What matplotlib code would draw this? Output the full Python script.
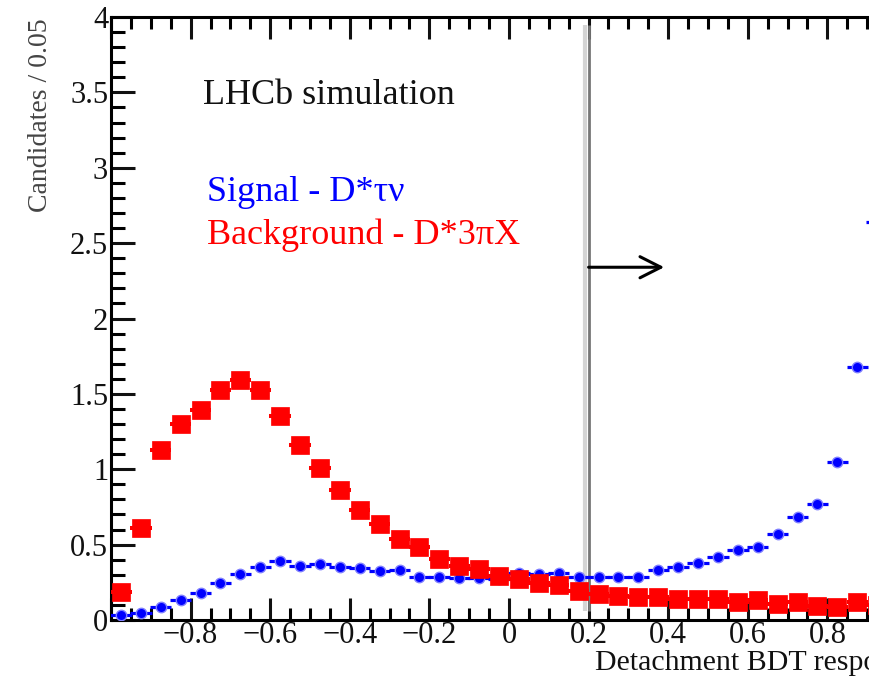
import numpy as np
import matplotlib
matplotlib.use("Agg")
import matplotlib.pyplot as plt
from matplotlib.ticker import MultipleLocator, FuncFormatter

# ---- data (bin centres of width 0.05) ----
bin_centers = [-0.975 + 0.05 * k for k in range(39)]
signal = [0.03, 0.044, 0.088, 0.132, 0.177, 0.243, 0.305, 0.353, 0.393, 0.360,
          0.371, 0.349, 0.342, 0.327, 0.331, 0.287, 0.287, 0.280, 0.276, 0.275,
          0.313, 0.305, 0.313, 0.283, 0.287, 0.283, 0.287, 0.331, 0.353, 0.380,
          0.419, 0.464, 0.486, 0.570, 0.680, 0.768, 1.049, 1.680, 2.640]
background = [0.185, 0.611, 1.126, 1.298, 1.395, 1.523, 1.589, 1.523, 1.351, 1.163,
              1.011, 0.861, 0.728, 0.640, 0.534, 0.486, 0.402, 0.358, 0.336, 0.291,
              0.269, 0.243, 0.232, 0.194, 0.172, 0.161, 0.150, 0.150, 0.139, 0.139,
              0.139, 0.117, 0.132, 0.106, 0.117, 0.095, 0.088, 0.117, 0.100]
bin_half = 0.027
cut_value = 0.2
arrow_y = 2.34
arrow_end = 0.39

SERIF = ["Liberation Serif", "DejaVu Serif"]
plt.rcParams["font.family"] = SERIF
plt.rcParams["axes.unicode_minus"] = True

W, H = 869, 677
fig = plt.figure(figsize=(W / 100, H / 100), dpi=100)
# axes extends past the right edge of the figure (reference is cropped)
ax = fig.add_axes([111 / W, (H - 620) / H, 796 / W, 603 / H])
ax.set_xlim(-1, 1)
ax.set_ylim(0, 4)

x = np.array(bin_centers)
ax.errorbar(x, signal, xerr=bin_half, fmt="o", color="#0000ff", ms=7.5,
            mfc="#0000ff", mec="#7f7fff", mew=1.0, elinewidth=2.3, capsize=0,
            zorder=3)
ax.errorbar(x, background, xerr=bin_half, fmt="s", color="#ff0000", ms=12.5,
            mfc="#ff0000", mec="#ff0000", mew=0.5, elinewidth=2.9, capsize=0,
            zorder=4)

# cut line (light + dark grey)
ax.plot([cut_value - 0.009, cut_value - 0.009], [0.06, 3.95], color="#d4d4d4",
        lw=3.0, zorder=2, solid_capstyle="butt")
ax.plot([cut_value, cut_value], [0.06, 3.95], color="#777777", lw=2.0,
        zorder=2, solid_capstyle="butt")
ax.annotate("", xy=(arrow_end, arrow_y), xytext=(cut_value, arrow_y),
            arrowprops=dict(arrowstyle="->,head_length=0.75,head_width=0.38",
                            lw=2.2, color="black", mutation_scale=20,
                            shrinkA=0, shrinkB=0), zorder=5)

# texts
ax.text(-0.769, 3.424, "LHCb simulation", fontsize=26, color="#111111",
        ha="left", va="baseline")
ax.text(-0.759, 2.781, "Signal - D*τν", fontsize=26, color="#0000ff",
        ha="left", va="baseline")
ax.text(-0.759, 2.497, "Background - D*3πX", fontsize=26, color="#ff0000",
        ha="left", va="baseline")
ax.text(0.216, -0.331, "Detachment BDT response", fontsize=21.5,
        color="#111111", ha="left", va="baseline", clip_on=False)
fig.text(41 / W, 1 - 18 / H, "Candidates / 0.05", rotation=90, fontsize=20,
         color="#444444", ha="center", va="top")

# axes style (ROOT-like)
for s in ax.spines.values():
    s.set_linewidth(2.2)
ax.xaxis.set_major_locator(MultipleLocator(0.2))
ax.xaxis.set_minor_locator(MultipleLocator(0.05))
ax.yaxis.set_major_locator(MultipleLocator(0.5))
ax.yaxis.set_minor_locator(MultipleLocator(0.1))


def fmt(v, pos):
    if abs(v) < 1e-9:
        return "0"
    s = ("%.1f" % v).rstrip("0").rstrip(".")
    return s.replace("-", "\u2212")


def xfmt(v, pos):
    if abs(v) > 0.99:
        return ""
    return fmt(v, pos)


ax.xaxis.set_major_formatter(FuncFormatter(xfmt))
ax.yaxis.set_major_formatter(FuncFormatter(fmt))
ax.tick_params(axis="x", which="major", direction="in", length=15.8, width=2.2,
               top=True, bottom=True, labelsize=22, pad=1, colors="#111111")
ax.tick_params(axis="x", which="minor", direction="in", length=8.6, width=2.2,
               top=True, bottom=True)
ax.tick_params(axis="y", which="major", direction="in", length=17, width=2.2,
               left=True, right=True, labelsize=22, pad=2, colors="#111111")
ax.tick_params(axis="y", which="minor", direction="in", length=10, width=2.2,
               left=True, right=True)

fig.savefig("out.png", dpi=100)
